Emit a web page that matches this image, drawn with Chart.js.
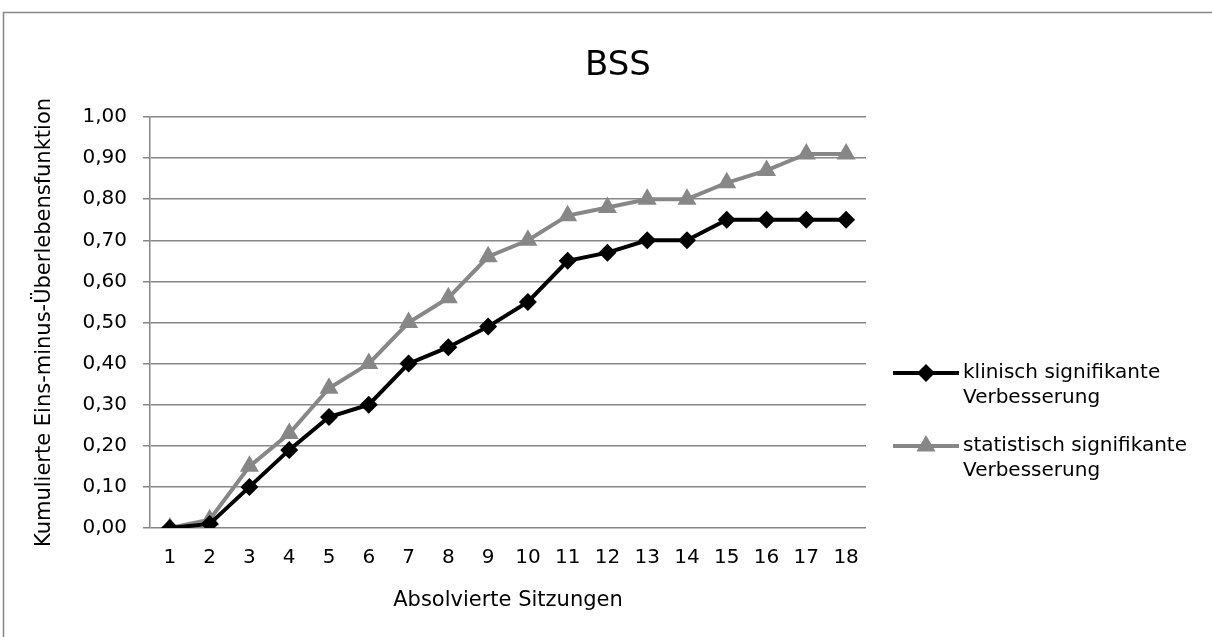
<!DOCTYPE html>
<html lang="de">
<head>
    <meta charset="UTF-8">
    <title>BSS</title>
    <script src="https://cdn.jsdelivr.net/npm/chart.js"></script>
    <style>
        html, body { margin: 0; padding: 0; background: #fff; overflow: hidden; }
        #wrap { position: absolute; left: 0; top: 0; width: 1212px; height: 637px; }
    </style>
</head>
<body>
    <div id="wrap">
        <canvas id="bssChart" width="1212" height="637"></canvas>
    </div>

    <script>
        // Sessions 1..18
        const sessions = ['1', '2', '3', '4', '5', '6', '7', '8', '9', '10', '11', '12', '13', '14', '15', '16', '17', '18'];
        const klinisch = [0.00, 0.01, 0.10, 0.19, 0.27, 0.30, 0.40, 0.44, 0.49, 0.55, 0.65, 0.67, 0.70, 0.70, 0.75, 0.75, 0.75, 0.75];
        const statistisch = [0.00, 0.02, 0.15, 0.23, 0.34, 0.40, 0.50, 0.56, 0.66, 0.70, 0.76, 0.78, 0.80, 0.80, 0.84, 0.87, 0.91, 0.91];
        const seriesNames = [
            ['klinisch signifikante', 'Verbesserung'],
            ['statistisch signifikante', 'Verbesserung']
        ];
        const chartTitle = 'BSS';

        const FONT = 'DejaVu Sans';
        const GRID = '#868686';

        // frame, title over the whole chart, and legend on the right (two-line labels)
        const frameAndLegend = {
            id: 'frameAndLegend',
            beforeDraw(chart) {
                const ctx = chart.ctx;
                ctx.save();
                ctx.strokeStyle = GRID;
                ctx.lineWidth = 1.5;
                ctx.strokeRect(3.5, 12.5, 1230, 650);
                ctx.fillStyle = '#000';
                ctx.font = '34px "' + FONT + '"';
                ctx.textAlign = 'center';
                ctx.textBaseline = 'middle';
                ctx.fillText(chartTitle, 618, 66);
                ctx.restore();
            },
            afterDraw(chart) {
                const ctx = chart.ctx;
                const rows = [373, 446];
                chart.data.datasets.forEach((ds, i) => {
                    const y = rows[i];
                    ctx.save();
                    ctx.strokeStyle = ds.borderColor;
                    ctx.lineWidth = ds.borderWidth;
                    ctx.beginPath();
                    ctx.moveTo(893, y);
                    ctx.lineTo(959, y);
                    ctx.stroke();
                    ctx.fillStyle = ds.pointBackgroundColor;
                    ctx.strokeStyle = ds.pointBorderColor;
                    Chart.helpers.drawPoint(ctx, {
                        pointStyle: ds.pointStyle,
                        radius: ds.pointRadius,
                        rotation: 0,
                        borderWidth: 0
                    }, 926, y);
                    ctx.fillStyle = '#000';
                    ctx.font = '20px "' + FONT + '"';
                    ctx.textBaseline = 'middle';
                    ctx.textAlign = 'left';
                    seriesNames[i].forEach((t, k) => ctx.fillText(t, 963, y + k * 25));
                    ctx.restore();
                });
            }
        };

        const ctx = document.getElementById('bssChart').getContext('2d');
        new Chart(ctx, {
            type: 'line',
            data: {
                labels: sessions,
                datasets: [{
                    label: seriesNames[0].join(' '),
                    data: klinisch,
                    borderColor: '#000000',
                    backgroundColor: '#000000',
                    pointBackgroundColor: '#000000',
                    pointBorderColor: '#000000',
                    borderWidth: 4,
                    pointStyle: 'rectRot',
                    pointRadius: 9,
                    pointBorderWidth: 0,
                    tension: 0
                }, {
                    label: seriesNames[1].join(' '),
                    data: statistisch,
                    borderColor: '#878787',
                    backgroundColor: '#878787',
                    pointBackgroundColor: '#878787',
                    pointBorderColor: '#878787',
                    borderWidth: 4,
                    pointStyle: 'triangle',
                    pointRadius: 11,
                    pointBorderWidth: 0,
                    tension: 0
                }]
            },
            options: {
                responsive: false,
                animation: false,
                layout: { padding: { left: 0, right: 346, top: 117, bottom: 0 } },
                plugins: {
                    legend: { display: false },
                    tooltip: { enabled: false },
                    title: { display: false }
                },
                scales: {
                    x: {
                        offset: true,
                        grid: { display: false },
                        border: { display: false },
                        ticks: {
                            color: '#000',
                            font: { family: FONT, size: 20 },
                            padding: 10,
                            maxRotation: 0,
                            autoSkip: false
                        },
                        title: {
                            display: true,
                            text: 'Absolvierte Sitzungen',
                            color: '#000',
                            font: { family: FONT, size: 21 },
                            padding: { top: 0, bottom: 24 }
                        },
                        afterFit: s => { s.height = 109; }
                    },
                    y: {
                        min: 0,
                        max: 1,
                        grid: {
                            color: GRID,
                            lineWidth: 1.5,
                            drawTicks: true,
                            tickLength: 7
                        },
                        border: { display: true, color: GRID, width: 1.5 },
                        ticks: {
                            stepSize: 0.1,
                            color: '#000',
                            font: { family: FONT, size: 20 },
                            padding: 16,
                            callback: v => v.toFixed(2).replace('.', ',')
                        },
                        title: {
                            display: true,
                            text: 'Kumulierte Eins-minus-Überlebensfunktion',
                            color: '#000',
                            font: { family: FONT, size: 21 },
                            padding: { top: 32, bottom: 0 }
                        },
                        afterFit: s => { s.width = 150; }
                    }
                }
            },
            plugins: [frameAndLegend]
        });
    </script>
</body>
</html>
